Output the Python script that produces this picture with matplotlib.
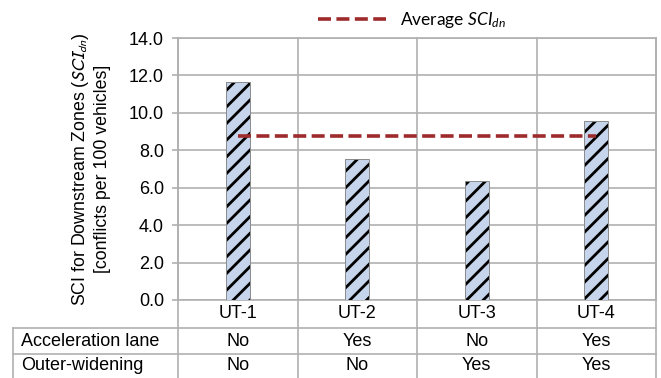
import matplotlib
matplotlib.use("Agg")
import matplotlib.pyplot as plt
import matplotlib.transforms as mtransforms
from matplotlib.lines import Line2D
import numpy as np

# ---- data ----
categories = ["UT-1", "UT-2", "UT-3", "UT-4"]
sci_values = [11.66, 7.55, 6.38, 9.57]
accel_lane = ["No", "Yes", "No", "Yes"]
outer_widening = ["No", "No", "Yes", "Yes"]
row_labels = ["Acceleration lane", "Outer-widening"]
yticks = [0.0, 2.0, 4.0, 6.0, 8.0, 10.0, 12.0, 14.0]

plt.rcParams['font.family'] = ['Liberation Sans', 'DejaVu Sans']
plt.rcParams['mathtext.fontset'] = 'custom'
plt.rcParams['mathtext.rm'] = 'Lato'
plt.rcParams['mathtext.it'] = 'Lato:italic'
plt.rcParams['hatch.linewidth'] = 2.0

W, H = 661, 378
fig = plt.figure(figsize=(W / 100, H / 100), dpi=100)

# axes geometry in pixels
x0, x1 = 178, 656
y_top, y_bot = 38, 300
ax = fig.add_axes([x0 / W, 1 - y_bot / H, (x1 - x0) / W, (y_bot - y_top) / H])

grid_c = "#b0b0b0"
FS = 13
x = np.arange(len(categories))
# fill
ax.bar(x, sci_values, width=0.2, color="#c6d4ec", edgecolor="none",
       linewidth=0, zorder=3)
# hatch (black)
ax.bar(x, sci_values, width=0.2, fill=False, edgecolor="black",
       linewidth=0, hatch="//", zorder=3.1)
# outline
ax.bar(x, sci_values, width=0.2, fill=False, edgecolor="#8a8a8a",
       linewidth=0.7, zorder=3.2)

avg = float(np.mean(sci_values))
ax.plot([x[0], x[-1]], [avg, avg], color="#9e2a2b", lw=2.6,
        dashes=(3.6, 1.5), zorder=4, label=r"Average $SCI_{dn}$")

ax.set_xlim(-0.5, len(categories) - 0.5)
ax.set_ylim(0, 14)
ax.set_yticks(yticks)
ax.set_yticklabels([f"{v:.1f}" for v in yticks], fontsize=FS)
ax.set_xticks([])
ax.tick_params(axis='y', length=4, width=1.2, color=grid_c, pad=6)
ax.yaxis.grid(True, color=grid_c, lw=1.2, zorder=0)
for s in ax.spines.values():
    s.set_color(grid_c)
    s.set_linewidth(1.2)

# y label
ax.set_ylabel("SCI for Downstream Zones ($SCI_{dn}$)\n[conflicts per 100 vehicles]",
              fontsize=12.8, linespacing=1.25, labelpad=13)
ax.yaxis.label.set_math_fontfamily('stixsans')

# legend
fig.legend(loc='center', bbox_to_anchor=(412 / W, 1 - 20 / H),
           frameon=False, handlelength=3.9, handletextpad=0.8,
           borderpad=0, prop={'family': 'Lato', 'size': 12.5})

# table below the chart
blend = mtransforms.blended_transform_factory(ax.transData, fig.transFigure)
row_cat_y = 1 - 314 / H
row1_y = 1 - 341 / H
row2_y = 1 - 366 / H
for i, c in enumerate(categories):
    ax.text(x[i], row_cat_y, c, transform=blend, ha='center', va='center', fontsize=FS)
    ax.text(x[i], row1_y, accel_lane[i], transform=blend, ha='center', va='center', fontsize=FS)
    ax.text(x[i], row2_y, outer_widening[i], transform=blend, ha='center', va='center', fontsize=FS)
fig.text(21 / W, row1_y, row_labels[0], ha='left', va='center', fontsize=FS)
fig.text(21 / W, row2_y, row_labels[1], ha='left', va='center', fontsize=FS)

# table lines
for yy in (328, 354):
    fig.add_artist(Line2D([13 / W, x1 / W], [1 - yy / H, 1 - yy / H],
                          color=grid_c, lw=1.2, transform=fig.transFigure))
fig.add_artist(Line2D([13 / W, 13 / W], [1 - 328 / H, 0],
                      color=grid_c, lw=1.2, transform=fig.transFigure))
for b in np.arange(len(categories) + 1) - 0.5:
    ax.add_artist(Line2D([b, b], [0, 1 - y_top / H], color=grid_c, lw=1.2,
                         transform=blend, clip_on=False, zorder=1))

fig.savefig("out.png", dpi=100)
